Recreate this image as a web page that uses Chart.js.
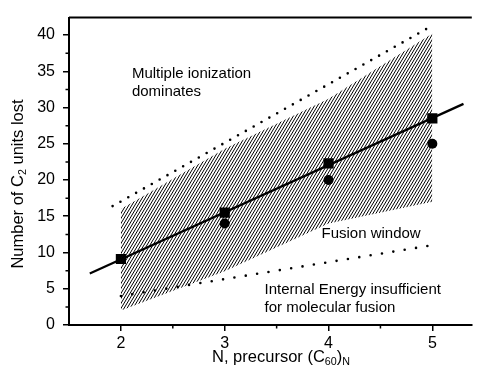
<!DOCTYPE html>
<html>
<head>
<meta charset="utf-8">
<script src="https://cdn.jsdelivr.net/npm/chart.js@4.4.1/dist/chart.umd.min.js"></script>
<style>
  html, body { margin: 0; padding: 0; background: #fff; }
  #wrap { width: 479px; height: 375px; }
</style>
</head>
<body>
<div id="wrap"><canvas id="chart" width="479" height="375"></canvas></div>
<script>
// datos
const precursorN = [2, 3, 4, 5];
const c2LostSquares = [9.1, 15.5, 22.3, 28.5];
const circleN = [3, 4, 5];
const c2LostCircles = [14, 20, 25];
const windowTop = [16, 24.3, 31.2, 40.2];
const windowBottom = [2, 7.4, 14, 17];
const fitN = [1.7, 5.3];
const fitY = [7.1, 30.5];
const ionN = [1.92, 5];
const ionY = [16.4, 41.3];
const lowN = [2, 5];
const lowY = [4, 11];
const xTicks = [2, 3, 4, 5];
const yTicks = [0, 5, 10, 15, 20, 25, 30, 35, 40];
const xMinor = [2.5, 3.5, 4.5];
const yMinor = [2.5, 7.5, 12.5, 17.5, 22.5, 27.5, 32.5, 37.5];

const pts = (xs, ys) => xs.map((x, i) => ({ x: x, y: ys[i] }));

// hatch pattern ///
function hatch() {
  const w = 3, h = 5;
  const c = document.createElement('canvas');
  c.width = w; c.height = h;
  const g = c.getContext('2d');
  g.strokeStyle = '#000';
  g.lineWidth = 1;
  g.beginPath();
  for (let k = -1; k <= 1; k++) {
    g.moveTo(k * w - w, 2 * h);
    g.lineTo(k * w + 2 * w, -h);
  }
  g.stroke();
  return g.createPattern(c, 'repeat');
}

const FONT = '"Liberation Sans", Arial, Helvetica, sans-serif';

// draw text with subscripts: parts = [[text, isSub], ...]
function richText(ctx, parts, x, y, size) {
  const sub = size * 0.65;
  let total = 0;
  parts.forEach(p => {
    ctx.font = (p[1] ? sub : size) + 'px ' + FONT;
    total += ctx.measureText(p[0]).width;
  });
  let cx = x - total / 2;
  ctx.textAlign = 'left';
  ctx.textBaseline = 'middle';
  parts.forEach(p => {
    ctx.font = (p[1] ? sub : size) + 'px ' + FONT;
    ctx.fillText(p[0], cx, p[1] ? y + size * 0.3 : y);
    cx += ctx.measureText(p[0]).width;
  });
}

const extras = {
  id: 'extras',
  afterDraw(chart) {
    const ctx = chart.ctx;
    const a = chart.chartArea;
    const xs = chart.scales.x, ys = chart.scales.y;
    ctx.save();
    // top frame
    ctx.strokeStyle = '#000';
    ctx.lineWidth = 2;
    ctx.beginPath();
    ctx.moveTo(a.left, a.top);
    ctx.lineTo(a.right, a.top);
    ctx.stroke();
    // minor ticks
    ctx.lineWidth = 1.5;
    ctx.beginPath();
    xMinor.forEach(v => {
      const px = xs.getPixelForValue(v);
      ctx.moveTo(px, a.bottom);
      ctx.lineTo(px, a.bottom + 3.5);
    });
    yMinor.forEach(v => {
      const py = ys.getPixelForValue(v);
      ctx.moveTo(a.left, py);
      ctx.lineTo(a.left - 3.5, py);
    });
    ctx.stroke();

    // notes
    ctx.fillStyle = '#000';
    ctx.font = '15px ' + FONT;
    ctx.textAlign = 'left';
    ctx.textBaseline = 'middle';
    const notes = [
      ['Multiple ionization', 2.106, 34.7],
      ['dominates', 2.106, 32.1],
      ['Fusion window', 3.932, 12.6],
      ['Internal Energy insufficient', 3.383, 4.9],
      ['for molecular fusion', 3.383, 2.4]
    ];
    notes.forEach(n => {
      ctx.fillText(n[0], xs.getPixelForValue(n[1]), ys.getPixelForValue(n[2]));
    });

    // axis titles
    richText(ctx, [['N, precursor (C', false], ['60', true], [')', false], ['N', true]], 281, 357, 16.5);
    ctx.translate(18, 184);
    ctx.rotate(-Math.PI / 2);
    richText(ctx, [['Number of C', false], ['2', true], [' units lost', false]], 0, 0, 16.5);
    ctx.restore();
  }
};

const ctx = document.getElementById('chart');

new Chart(ctx, {
  type: 'line',
  data: {
    datasets: [
      {
        label: 'window top',
        data: pts(precursorN, windowTop),
        borderWidth: 0,
        pointRadius: 0,
        fill: '+1',
        backgroundColor: hatch(),
        order: 10
      },
      {
        label: 'window bottom',
        data: pts(precursorN, windowBottom),
        borderWidth: 0,
        pointRadius: 0,
        fill: false,
        order: 9
      },
      {
        label: 'ionization limit',
        data: pts(ionN, ionY),
        borderColor: '#000',
        borderWidth: 2.6,
        borderDash: [0, 9],
        borderCapStyle: 'round',
        pointRadius: 0,
        fill: false,
        order: 5
      },
      {
        label: 'energy limit',
        data: pts(lowN, lowY),
        borderColor: '#000',
        borderWidth: 2.6,
        borderDash: [0, 11.5],
        borderCapStyle: 'round',
        pointRadius: 0,
        fill: false,
        order: 5
      },
      {
        label: 'fit',
        data: pts(fitN, fitY),
        borderColor: '#000',
        borderWidth: 2.2,
        pointRadius: 0,
        fill: false,
        order: 2
      },
      {
        label: 'squares',
        data: pts(precursorN, c2LostSquares),
        showLine: false,
        pointStyle: 'rect',
        pointRadius: 7.2,
        pointBackgroundColor: '#000',
        pointBorderWidth: 0,
        order: 1
      },
      {
        label: 'circles',
        data: pts(circleN, c2LostCircles),
        showLine: false,
        pointStyle: 'circle',
        pointRadius: 5,
        pointBackgroundColor: '#000',
        pointBorderWidth: 0,
        order: 1
      }
    ]
  },
  options: {
    responsive: false,
    animation: false,
    layout: { padding: { top: 14, left: 0, right: 0, bottom: 0 } },
    plugins: {
      legend: { display: false },
      tooltip: { enabled: false }
    },
    scales: {
      x: {
        type: 'linear',
        min: 1.5,
        max: 5.38,
        afterFit: s => { s.height = 50; },
        afterBuildTicks: s => { s.ticks = xTicks.map(v => ({ value: v })); },
        ticks: { color: '#000', font: { size: 16, family: FONT }, padding: 3, maxRotation: 0 },
        grid: { drawOnChartArea: false, tickLength: 6, color: '#000', lineWidth: 1.5 },
        border: { color: '#000', width: 2 }
      },
      y: {
        min: 0,
        max: 42.4,
        afterFit: s => { s.width = 69; },
        afterBuildTicks: s => { s.ticks = yTicks.map(v => ({ value: v })); },
        ticks: { color: '#000', font: { size: 16, family: FONT }, padding: 8 },
        grid: { drawOnChartArea: false, tickLength: 6, color: '#000', lineWidth: 1.5 },
        border: { color: '#000', width: 2 }
      }
    }
  },
  plugins: [extras]
});
</script>
</body>
</html>
